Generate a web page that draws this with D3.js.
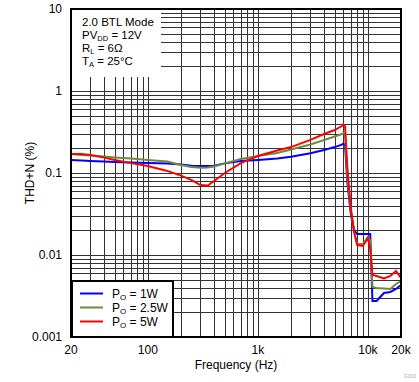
<!DOCTYPE html>
<meta charset="utf-8">
<style>
body { margin: 0; background: #fff; }
text { font-family: "Liberation Sans", Arial, sans-serif; font-size: 12px; fill: #000; }
.grid line { stroke: #333; stroke-width: 1px; shape-rendering: crispEdges; }
.series { fill: none; stroke-width: 2px; }
</style>
<svg width="419" height="382"></svg>
<script src="https://d3js.org/d3.v7.min.js"></script>
<script>

var freq = [20, 25, 30, 40, 50, 70, 100, 150, 200, 250, 300, 350, 400, 500, 700,
  1000, 1500, 2000, 3000, 4000, 5000, 5800, 6000, 6200, 6500, 7000, 7500, 8000,
  9000, 10000, 10500, 11000, 12000, 14000, 16000, 18000, 20000];

var thd1W = [0.144, 0.142, 0.140, 0.138, 0.136, 0.134, 0.132, 0.131, 0.127, 0.123, 0.122, 0.122, 0.123, 0.131, 0.140,
  0.144, 0.150, 0.158, 0.174, 0.191, 0.207, 0.222, 0.229, 0.220, 0.078, 0.031, 0.020, 0.018,
  0.018, 0.018, 0.018, 0.00275, 0.00275, 0.00344, 0.00354, 0.00385, 0.00431];

var thd25W = [0.170, 0.166, 0.163, 0.159, 0.155, 0.150, 0.144, 0.138, 0.125, 0.118, 0.116, 0.117, 0.120, 0.131, 0.148,
  0.161, 0.175, 0.193, 0.223, 0.253, 0.279, 0.299, 0.307, 0.300, 0.090, 0.035, 0.019, 0.0136,
  0.0136, 0.0166, 0.0150, 0.00407, 0.00396, 0.0039, 0.00385, 0.00443, 0.00482];

var thd5W = [0.170, 0.170, 0.166, 0.154, 0.144, 0.132, 0.122, 0.106, 0.093, 0.082, 0.0714, 0.0704, 0.080, 0.100, 0.132,
  0.161, 0.188, 0.207, 0.253, 0.299, 0.334, 0.374, 0.390, 0.370, 0.118, 0.037, 0.019, 0.0132,
  0.0129, 0.0161, 0.0120, 0.0057, 0.00555, 0.00517, 0.00555, 0.00638, 0.00524];

var seriesNames = ["1W", "2.5W", "5W"];
var seriesColors = ["#0000ff", "#6e8b3d", "#ff0000"];
var seriesValues = [thd1W, thd25W, thd5W];

var xTickValues = [20, 100, 1000, 10000, 20000];
var xTickLabels = ["20", "100", "1k", "10k", "20k"];
var yTickValues = [0.001, 0.01, 0.1, 1, 10];
var yTickLabels = ["0.001", "0.01", "0.1", "1", "10"];

var svg = d3.select("svg");

var x = d3.scaleLog().domain([20, 20000]).range([71, 401]);
var y = d3.scaleLog().domain([0.001, 10]).range([337, 9]);

// grid
var grid = svg.append("g").attr("class", "grid");
grid.selectAll(".vx").data(x.ticks()).enter().append("line")
    .attr("x1", function(d) { return Math.round(x(d)) + 0.5; })
    .attr("x2", function(d) { return Math.round(x(d)) + 0.5; })
    .attr("y1", y.range()[1]).attr("y2", y.range()[0]);
grid.selectAll(".hy").data(y.ticks()).enter().append("line")
    .attr("y1", function(d) { return Math.round(y(d)) + 0.5; })
    .attr("y2", function(d) { return Math.round(y(d)) + 0.5; })
    .attr("x1", x.range()[0]).attr("x2", x.range()[1]);

// condition box in top-left
svg.append("rect")
    .attr("x", 72).attr("y", 10).attr("width", 89).attr("height", 67)
    .attr("fill", "#fff");

var info = svg.append("g").attr("transform", "translate(82,0)");
info.append("text").attr("y", 26).style("font-size", "11.5px").text("2.0 BTL Mode");
var t2 = info.append("text").attr("y", 39).style("font-size", "11.5px");
t2.append("tspan").text("PV");
t2.append("tspan").attr("dy", 2).style("font-size", "7.5px").text("DD");
t2.append("tspan").attr("dy", -2).text(" = 12V");
var t3 = info.append("text").attr("y", 52).style("font-size", "11.5px");
t3.append("tspan").text("R");
t3.append("tspan").attr("dy", 2).style("font-size", "7.5px").text("L");
t3.append("tspan").attr("dy", -2).text(" = 6\u03a9");
var t4 = info.append("text").attr("y", 65).style("font-size", "11.5px");
t4.append("tspan").text("T");
t4.append("tspan").attr("dy", 2).style("font-size", "7.5px").text("A");
t4.append("tspan").attr("dy", -2).text(" = 25\u00b0C");

// series
var line = d3.line()
    .x(function(d) { return x(d[0]); })
    .y(function(d) { return y(d[1]); });

seriesValues.forEach(function(vals, i) {
  svg.append("path")
      .attr("class", "series")
      .attr("stroke", seriesColors[i])
      .attr("d", line(freq.map(function(f, j) { return [f, vals[j]]; })));
});

// legend
var legend = svg.append("g");
legend.append("rect")
    .attr("x", 72).attr("y", 281).attr("width", 101).attr("height", 56)
    .attr("fill", "#fff").attr("stroke", "#000").attr("stroke-width", 2);
seriesNames.forEach(function(name, i) {
  var ly = 293.5 + i * 14;
  legend.append("line")
      .attr("x1", 80).attr("x2", 103).attr("y1", ly).attr("y2", ly)
      .attr("stroke", seriesColors[i]).attr("stroke-width", 2);
  var t = legend.append("text").attr("x", 112).attr("y", ly + 4.5);
  t.append("tspan").text("P");
  t.append("tspan").attr("dy", 2).style("font-size", "8px").text("O");
  t.append("tspan").attr("dy", -2).text(" = " + name);
});

// plot border
svg.append("rect")
    .attr("x", 71).attr("y", 9).attr("width", 330).attr("height", 328)
    .attr("fill", "none").attr("stroke", "#000").attr("stroke-width", 2);

// tick labels
svg.selectAll(".xl").data(xTickValues).enter().append("text")
    .attr("x", function(d) { return x(d); })
    .attr("y", 354)
    .attr("text-anchor", "middle")
    .text(function(d, i) { return xTickLabels[i]; });

svg.selectAll(".yl").data(yTickValues).enter().append("text")
    .attr("x", 62)
    .attr("y", function(d) { return y(d) + 4; })
    .attr("text-anchor", "end")
    .text(function(d, i) { return yTickLabels[i]; });

// axis titles
svg.append("text")
    .attr("x", 236).attr("y", 369)
    .attr("text-anchor", "middle")
    .text("Frequency (Hz)");

svg.append("text")
    .attr("transform", "translate(34,173) rotate(-90)")
    .attr("text-anchor", "middle")
    .text("THD+N (%)");

svg.append("text")
    .attr("x", 416).attr("y", 378)
    .attr("text-anchor", "end")
    .style("font-size", "5px").style("fill", "#aaa")
    .text("G003");

</script>
